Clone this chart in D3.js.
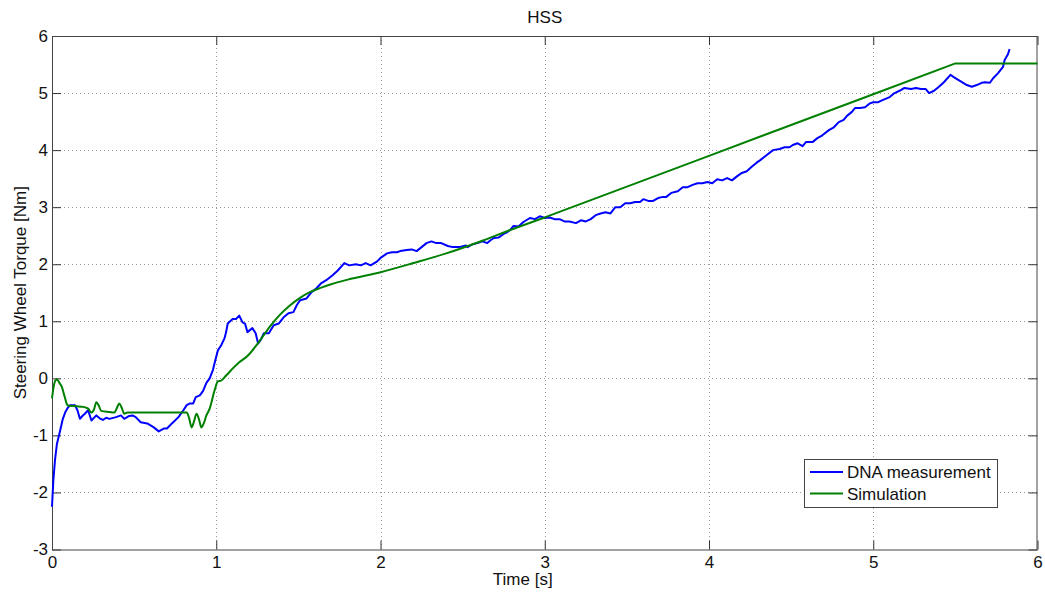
<!DOCTYPE html>
<html>
<head>
<meta charset="utf-8">
<script src="https://cdn.jsdelivr.net/npm/d3@7"></script>
<style>
  html, body { margin: 0; padding: 0; background: #fff; }
  svg { display: block; font-family: "Liberation Sans", Arial, Helvetica, sans-serif; }
  .tick text { font-size: 17px; fill: #111; }
</style>
</head>
<body>
<svg id="chart" width="1045" height="594"></svg>
<script>
// Steering wheel torque during the HSS manoeuvre: measured vs simulated

const chartTitle = "HSS";
const xLabel = "Time [s]";
const yLabel = "Steering Wheel Torque [Nm]";
const xTicks = [0, 1, 2, 3, 4, 5, 6];
const yTicks = [-3, -2, -1, 0, 1, 2, 3, 4, 5, 6];
const seriesNames = ["DNA measurement", "Simulation"];

// DNA measurement
const measTime = [
  0.000, 0.008, 0.018, 0.030, 0.050, 0.065, 0.080, 0.095, 0.110, 0.140,
  0.155, 0.170, 0.185, 0.200, 0.220, 0.240, 0.270, 0.290, 0.310, 0.330,
  0.350, 0.390, 0.420, 0.440, 0.470, 0.490, 0.510, 0.540, 0.580, 0.620,
  0.650, 0.680, 0.700, 0.730, 0.770, 0.800, 0.820, 0.840, 0.860, 0.875,
  0.900, 0.920, 0.940, 0.960, 0.980, 0.990, 1.010, 1.030, 1.050, 1.060,
  1.070, 1.100, 1.120, 1.140, 1.160, 1.175, 1.190, 1.220, 1.240, 1.255,
  1.270, 1.290, 1.320, 1.350, 1.380, 1.410, 1.440, 1.470, 1.490, 1.510,
  1.550, 1.580, 1.610, 1.640, 1.670, 1.710, 1.740, 1.780, 1.810, 1.850,
  1.880, 1.910, 1.940, 1.980, 2.000, 2.040, 2.070, 2.100, 2.120, 2.160,
  2.190, 2.220, 2.250, 2.280, 2.310, 2.340, 2.370, 2.410, 2.440, 2.480,
  2.520, 2.530, 2.560, 2.590, 2.620, 2.650, 2.670, 2.690, 2.720, 2.750,
  2.770, 2.790, 2.810, 2.840, 2.870, 2.910, 2.940, 2.970, 3.000, 3.030,
  3.060, 3.090, 3.120, 3.150, 3.190, 3.220, 3.250, 3.280, 3.310, 3.340,
  3.370, 3.400, 3.430, 3.460, 3.490, 3.520, 3.550, 3.580, 3.600, 3.630,
  3.660, 3.690, 3.720, 3.740, 3.770, 3.810, 3.840, 3.870, 3.900, 3.930,
  3.960, 3.990, 4.020, 4.050, 4.080, 4.110, 4.140, 4.170, 4.200, 4.230,
  4.260, 4.290, 4.310, 4.350, 4.390, 4.430, 4.460, 4.490, 4.510, 4.540,
  4.570, 4.590, 4.630, 4.660, 4.690, 4.730, 4.760, 4.790, 4.820, 4.840,
  4.870, 4.890, 4.920, 4.950, 4.980, 5.000, 5.030, 5.060, 5.100, 5.130,
  5.160, 5.190, 5.230, 5.260, 5.290, 5.320, 5.340, 5.370, 5.400, 5.430,
  5.470, 5.490, 5.530, 5.570, 5.600, 5.630, 5.660, 5.680, 5.710, 5.730,
  5.760, 5.790, 5.800, 5.820, 5.830
];
const measTorque = [
  -2.25, -1.80, -1.44, -1.15, -0.91, -0.72, -0.60, -0.52, -0.47, -0.47,
  -0.56, -0.71, -0.66, -0.62, -0.56, -0.74, -0.65, -0.70, -0.73, -0.69,
  -0.71, -0.68, -0.65, -0.71, -0.66, -0.65, -0.68, -0.77, -0.79, -0.86,
  -0.93, -0.88, -0.88, -0.79, -0.68, -0.56, -0.47, -0.44, -0.44, -0.33,
  -0.30, -0.22, -0.08, 0.00, 0.15, 0.27, 0.49, 0.58, 0.70, 0.81,
  0.96, 1.04, 1.04, 1.10, 0.98, 0.96, 0.81, 0.88, 0.79, 0.61,
  0.67, 0.79, 0.79, 0.93, 0.96, 1.07, 1.14, 1.16, 1.28, 1.37,
  1.40, 1.51, 1.58, 1.67, 1.72, 1.81, 1.89, 2.02, 1.98, 2.00,
  1.98, 2.02, 1.98, 2.05, 2.11, 2.19, 2.21, 2.21, 2.23, 2.25,
  2.26, 2.23, 2.30, 2.37, 2.40, 2.37, 2.37, 2.32, 2.30, 2.30,
  2.33, 2.30, 2.35, 2.37, 2.40, 2.37, 2.42, 2.46, 2.47, 2.53,
  2.56, 2.60, 2.67, 2.66, 2.74, 2.81, 2.79, 2.84, 2.81, 2.82,
  2.79, 2.79, 2.75, 2.75, 2.72, 2.77, 2.75, 2.79, 2.86, 2.89,
  2.91, 2.89, 3.00, 3.00, 3.07, 3.07, 3.09, 3.09, 3.14, 3.11,
  3.11, 3.16, 3.18, 3.18, 3.25, 3.28, 3.35, 3.35, 3.39, 3.42,
  3.42, 3.44, 3.42, 3.49, 3.47, 3.51, 3.47, 3.54, 3.60, 3.63,
  3.71, 3.78, 3.82, 3.91, 4.00, 4.02, 4.05, 4.05, 4.09, 4.12,
  4.07, 4.14, 4.14, 4.21, 4.26, 4.35, 4.40, 4.49, 4.53, 4.60,
  4.67, 4.74, 4.74, 4.75, 4.82, 4.84, 4.84, 4.88, 4.93, 5.00,
  5.04, 5.09, 5.07, 5.09, 5.07, 5.07, 5.00, 5.04, 5.11, 5.19,
  5.32, 5.28, 5.21, 5.14, 5.11, 5.14, 5.18, 5.19, 5.18, 5.26,
  5.35, 5.46, 5.58, 5.68, 5.77
];

// Simulation: transient part (smooth) and ramp/hold part (piecewise linear)
const simTime = [
  0.000, 0.010, 0.020, 0.030, 0.045, 0.060, 0.075, 0.090, 0.100, 0.150,
  0.190, 0.220, 0.240, 0.255, 0.270, 0.285, 0.300, 0.350, 0.380, 0.395,
  0.410, 0.425, 0.440, 0.460, 0.820, 0.835, 0.850, 0.865, 0.880, 0.895,
  0.910, 0.925, 0.940, 0.960, 0.990, 1.010, 1.030, 1.060, 1.140, 1.190,
  1.270, 1.330, 1.390, 1.450, 1.510, 1.570, 1.640, 1.700, 1.800, 2.000,
  2.200, 2.400, 2.600, 2.790, 3.000
];
const simTorque = [
  -0.35, -0.15, -0.04, -0.02, -0.08, -0.15, -0.30, -0.45, -0.48, -0.49,
  -0.50, -0.53, -0.60, -0.55, -0.42, -0.48, -0.57, -0.59, -0.60, -0.52,
  -0.44, -0.52, -0.62, -0.60, -0.60, -0.70, -0.86, -0.75, -0.62, -0.72,
  -0.86, -0.78, -0.65, -0.53, -0.21, -0.05, -0.04, 0.05, 0.28, 0.39,
  0.68, 0.92, 1.12, 1.28, 1.41, 1.51, 1.59, 1.65, 1.73, 1.86,
  2.02, 2.19, 2.39, 2.60, 2.82
];
const simRampTime = [3.000, 3.500, 4.000, 4.500, 5.000, 5.500, 6.000];
const simRampTorque = [2.82, 3.36, 3.90, 4.44, 4.98, 5.52, 5.52];

const svg = d3.select("#chart");
const plotLeft = 52, plotRight = 1037.5, plotTop = 36, plotBottom = 549.5;

const x = d3.scaleLinear().domain([0, 6]).range([plotLeft, plotRight]);
const y = d3.scaleLinear().domain([-3, 6]).range([plotBottom, plotTop]);

// plain hyphen-minus tick labels
const fmt = d => String(d);

// dotted grid
const grid = svg.append("g")
  .attr("stroke", "#9a9a9a")
  .attr("stroke-width", 1)
  .attr("stroke-dasharray", "1,3");
grid.selectAll("line.gx")
  .data(xTicks.slice(1, -1))
  .join("line")
  .attr("x1", d => Math.round(x(d)) + 0.5).attr("x2", d => Math.round(x(d)) + 0.5)
  .attr("y1", plotTop).attr("y2", plotBottom);
grid.selectAll("line.gy")
  .data(yTicks.slice(1, -1))
  .join("line")
  .attr("y1", d => Math.round(y(d)) + 0.5).attr("y2", d => Math.round(y(d)) + 0.5)
  .attr("x1", plotLeft).attr("x2", plotRight);

// axes with inward ticks
const tickLen = 9;
function styleAxis(g) {
  g.select(".domain").remove();
  g.selectAll(".tick line").attr("stroke", "#333");
}
svg.append("g")
  .attr("transform", `translate(0,${plotBottom})`)
  .call(d3.axisBottom(x).tickValues(xTicks).tickFormat(fmt)
    .tickSizeInner(-tickLen).tickSizeOuter(0).tickPadding(6))
  .call(styleAxis)
  .call(g => g.selectAll("text").attr("font-size", 17).attr("font-family", null));
svg.append("g")
  .attr("transform", `translate(${plotLeft},0)`)
  .call(d3.axisLeft(y).tickValues(yTicks).tickFormat(fmt)
    .tickSizeInner(-tickLen).tickSizeOuter(0).tickPadding(4))
  .call(styleAxis)
  .call(g => g.selectAll("text").attr("font-size", 17).attr("font-family", null));
svg.append("g")
  .attr("transform", `translate(0,${plotTop})`)
  .call(d3.axisTop(x).tickValues(xTicks).tickFormat("")
    .tickSizeInner(-tickLen).tickSizeOuter(0))
  .call(styleAxis);
svg.append("g")
  .attr("transform", `translate(${plotRight},0)`)
  .call(d3.axisRight(y).tickValues(yTicks).tickFormat("")
    .tickSizeInner(-tickLen).tickSizeOuter(0))
  .call(styleAxis);

// axes box
svg.append("rect")
  .attr("x", plotLeft + 0.5).attr("y", plotTop + 0.5)
  .attr("width", plotRight - plotLeft - 1).attr("height", plotBottom - plotTop)
  .attr("fill", "none").attr("stroke", "#444").attr("stroke-width", 1);

// data lines
const measLine = d3.line().x(d => x(d[0])).y(d => y(d[1]));
const smoothLine = d3.line().x(d => x(d[0])).y(d => y(d[1])).curve(d3.curveMonotoneX);
const measPts = measTime.map((t, i) => [t, measTorque[i]]);
const simPts = simTime.map((t, i) => [t, simTorque[i]]);
const rampPts = simRampTime.map((t, i) => [t, simRampTorque[i]]);
const colors = ["#0000ff", "#008000"];

svg.append("path").datum(measPts)
  .attr("d", measLine).attr("fill", "none")
  .attr("stroke", colors[0]).attr("stroke-width", 2).attr("stroke-linejoin", "round");
const simGroup = svg.append("g")
  .attr("fill", "none").attr("stroke", colors[1])
  .attr("stroke-width", 2).attr("stroke-linejoin", "round");
simGroup.append("path").datum(simPts).attr("d", smoothLine);
simGroup.append("path").datum(rampPts).attr("d", measLine);

// title and labels
svg.append("text")
  .attr("x", (plotLeft + plotRight) / 2).attr("y", 23)
  .attr("text-anchor", "middle").attr("font-size", 17).attr("fill", "#111")
  .text(chartTitle);
svg.append("text")
  .attr("x", (plotLeft + plotRight) / 2 - 22).attr("y", 585)
  .attr("text-anchor", "middle").attr("font-size", 17).attr("fill", "#111")
  .text(xLabel);
svg.append("text")
  .attr("transform", `translate(26,${(plotTop + plotBottom) / 2}) rotate(-90)`)
  .attr("text-anchor", "middle").attr("font-size", 17).attr("fill", "#111")
  .text(yLabel);

// legend
const legend = svg.append("g").attr("transform", "translate(804.5,459.5)");
legend.append("rect")
  .attr("width", 193).attr("height", 48)
  .attr("fill", "#fff").attr("stroke", "#444").attr("stroke-width", 1);
seriesNames.forEach((name, i) => {
  const cy = 12.5 + i * 21.5;
  legend.append("line")
    .attr("x1", 5.5).attr("x2", 38.5).attr("y1", cy).attr("y2", cy)
    .attr("stroke", colors[i]).attr("stroke-width", 2);
  legend.append("text")
    .attr("x", 42.5).attr("y", cy + 6)
    .attr("font-size", 17).attr("fill", "#111")
    .text(name);
});
</script>
</body>
</html>
